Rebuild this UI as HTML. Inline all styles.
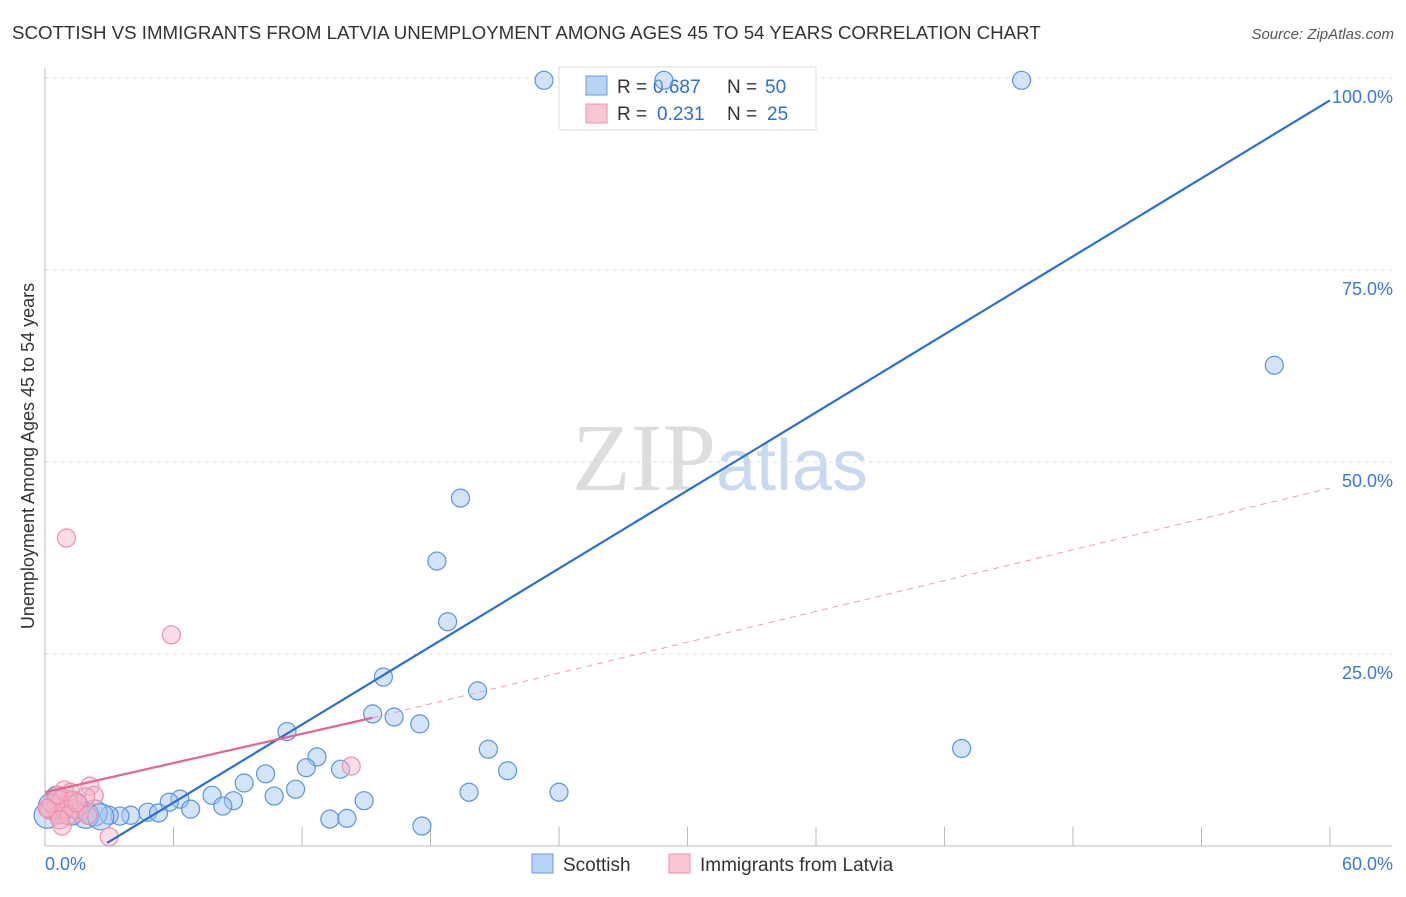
<!DOCTYPE html>
<html><head><meta charset="utf-8"><style>
body{margin:0;background:#fff;font-family:"Liberation Sans",sans-serif;}
</style></head><body>
<svg id="chart" width="1406" height="892" xmlns="http://www.w3.org/2000/svg">
<text x="12" y="39" font-size="18.7" fill="#333">SCOTTISH VS IMMIGRANTS FROM LATVIA UNEMPLOYMENT AMONG AGES 45 TO 54 YEARS CORRELATION CHART</text>
<text x="1394" y="39" font-size="15" fill="#555" text-anchor="end" font-style="italic">Source: ZipAtlas.com</text>
<text x="720" y="490" font-size="96" fill="#ddd" text-anchor="middle" font-family="Liberation Serif,serif">ZIP<tspan fill="#c9daf0" font-family="Liberation Sans,sans-serif" font-size="72">atlas</tspan></text>
<text transform="translate(34,456) rotate(-90)" font-size="18" fill="#333" text-anchor="middle">Unemployment Among Ages 45 to 54 years</text>
<g id="grid"></g>
<g>
<rect x="559" y="67" width="257" height="63" fill="#fff" stroke="#ddd"/>
<rect x="586" y="76" width="21" height="19" fill="#b8d3f5" stroke="#6a9be0"/>
<rect x="586" y="104" width="21" height="19" fill="#f9c6d4" stroke="#ec90ad"/>
<text x="617" y="93" font-size="19" fill="#333">R =</text>
<text x="653" y="93" font-size="19" fill="#2d6fd6">0.687</text>
<text x="727" y="93" font-size="19" fill="#333">N =</text>
<text x="765" y="93" font-size="19" fill="#2d6fd6">50</text>
<text x="617" y="120" font-size="19" fill="#333">R =</text>
<text x="657" y="120" font-size="19" fill="#2d6fd6">0.231</text>
<text x="727" y="120" font-size="19" fill="#333">N =</text>
<text x="767" y="120" font-size="19" fill="#2d6fd6">25</text>
</g>
<g id="pts"></g><g id="lines"></g>
<g>
<rect x="532" y="854" width="21" height="19" fill="#b8d3f5" stroke="#6a9be0"/>
<text x="563" y="871" font-size="19" fill="#333">Scottish</text>
<rect x="669" y="854" width="21" height="19" fill="#f9c6d4" stroke="#ec90ad"/>
<text x="700" y="871" font-size="19" fill="#333">Immigrants from Latvia</text>
</g>
</svg>
<script>
const yTicks=[25,50,75,100];
const yTickLabels=["25.0%","50.0%","75.0%","100.0%"];
const blueX=[23.3,28.9,45.6,57.4,19.4,18.3,18.8,15.8,20.2,15.3,16.3,17.5,11.3,20.7,42.8,12.7,12.2,13.8,21.6,10.3,9.3,11.7,10.7,19.8,24.0,7.8,8.8,6.3,5.8,14.9,8.3,6.8,4.8,5.3,4.0,3.5,3.0,2.3,1.9,1.2,0.7,0.3,0.5,13.3,14.1,17.6,2.6,1.4,0.9,0.1];
const blueY=[99.7,99.7,99.7,62.6,45.3,37.1,29.2,22.0,20.2,17.2,16.8,15.9,14.9,12.6,12.7,11.6,10.2,10.0,9.8,9.4,8.2,7.4,6.5,7.0,7.0,6.6,5.9,6.1,5.7,5.9,5.2,4.8,4.4,4.3,4.0,3.9,4.0,4.3,4.0,4.4,4.7,5.2,6.6,3.5,3.6,2.6,3.8,5.3,5.6,4.0];
const pinkX=[1.0,5.9,14.3,2.1,2.3,0.9,1.2,0.7,0.5,0.2,0.6,1.4,1.6,0.8,3.0,0.3,0.9,1.3,1.9,0.1,0.6,1.1,1.5,2.0,0.7];
const pinkY=[40.1,27.5,10.4,7.8,6.6,7.3,7.0,6.0,5.2,4.7,4.0,4.9,4.4,2.6,1.2,5.6,4.7,6.0,6.4,4.9,6.6,4.0,5.6,4.0,3.4];
const blueTrend=[[2.9,0.4],[60,97.1]];
const pinkTrend=[[0,7.0],[15.3,16.7],[60,46.6]];
const X=v=>45+v*(1285/60), Y=v=>846-v*7.68;
const NS="http://www.w3.org/2000/svg";
function mk(t,a,p){const e=document.createElementNS(NS,t);for(const k in a)e.setAttribute(k,a[k]);document.getElementById(p).appendChild(e);return e;}
yTicks.forEach((t,i)=>{
 const g=mk('line',{x1:45,x2:1392,y1:Y(t),y2:Y(t),stroke:'#ddd','stroke-dasharray':'4,4'},'grid');
 
 
 const l=mk('text',{x:1393,y:Y(t)+25,'text-anchor':'end','font-size':18,fill:'#3a78d8'},'grid');
 l.textContent=yTickLabels[i];
 
 
});
mk('line',{x1:45,x2:45,y1:68,y2:846,stroke:'#bbb'},'grid');
mk('line',{x1:45,x2:1392,y1:846,y2:846,stroke:'#bbb'},'grid');
for(let i=1;i<=10;i++){mk('line',{x1:X(i*6),x2:X(i*6),y1:827,y2:846,stroke:'#bbb'},'grid');}
const xl=mk('text',{x:45,y:870,'font-size':18,fill:'#3a78d8'},'grid');xl.textContent='0.0%';


const xr=mk('text',{x:1393,y:870,'font-size':18,fill:'#3a78d8','text-anchor':'end'},'grid');xr.textContent='60.0%';


blueX.forEach((x,i)=>{
 const big=(x<3&&blueY[i]<6)?13:9;
 const c=mk('circle',{cx:X(x),cy:Y(blueY[i]),r:big,fill:'rgba(160,196,240,0.45)',stroke:'#5b93dc','stroke-width':1.2},'pts');
 
 
});
pinkX.forEach((x,i)=>{
 const c=mk('circle',{cx:X(x),cy:Y(pinkY[i]),r:9,fill:'rgba(247,180,200,0.45)',stroke:'#ec8fac','stroke-width':1.2},'pts');
 
 
});
const bl=mk('line',{x1:X(blueTrend[0][0]),y1:Y(blueTrend[0][1]),x2:X(blueTrend[1][0]),y2:Y(blueTrend[1][1]),stroke:'#2a6fd6','stroke-width':2.2},'lines');


const pl=mk('line',{x1:X(pinkTrend[0][0]),y1:Y(pinkTrend[0][1]),x2:X(pinkTrend[1][0]),y2:Y(pinkTrend[1][1]),stroke:'#e8648f','stroke-width':2.2},'lines');


const pd=mk('line',{x1:X(pinkTrend[1][0]),y1:Y(pinkTrend[1][1]),x2:X(pinkTrend[2][0]),y2:Y(pinkTrend[2][1]),stroke:'#e8a0b6','stroke-width':1,'stroke-dasharray':'6,5'},'lines');


</script>
</body></html>
